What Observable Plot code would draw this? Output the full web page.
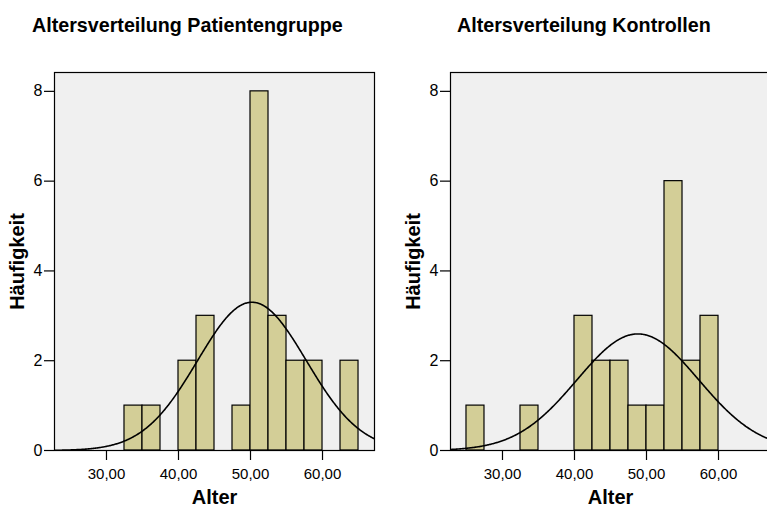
<!DOCTYPE html>
<html>
<head>
<meta charset="utf-8">
<script src="https://cdn.jsdelivr.net/npm/d3@7"></script>
<script src="https://cdn.jsdelivr.net/npm/@observablehq/plot@0.6"></script>
<style>
  html, body { margin: 0; padding: 0; background: #fff; overflow: hidden; width: 767px; height: 507px; }
  #root { position: relative; width: 767px; height: 507px; overflow: hidden; font-family: Arial, "Liberation Sans", sans-serif; }
  .title { position: absolute; top: 15px; font-weight: bold; font-size: 19.7px; line-height: 20px; white-space: nowrap; color: #000; }
  .panel { position: absolute; top: 60px; }
  .panel svg { max-width: none !important; }
</style>
</head>
<body>
<div id="root">
  <div class="title" id="t1" style="left:32px"></div>
  <div class="title" id="t2" style="left:457px"></div>
  <div class="panel" id="p1" style="left:0px; width:383px"></div>
  <div class="panel" id="p2" style="left:396px; width:384px"></div>
</div>
<script>
// ---- Data ----
const titles = ["Altersverteilung Patientengruppe", "Altersverteilung Kontrollen"];
const xLabel = "Alter";
const yLabel = "Häufigkeit";
const binWidth = 2.5;

const patientBinStarts = [32.5, 35, 40, 42.5, 47.5, 50, 52.5, 55, 57.5, 62.5];
const patientCounts    = [1, 1, 2, 3, 1, 8, 3, 2, 2, 2];

const controlBinStarts = [25, 32.5, 40, 42.5, 45, 47.5, 50, 52.5, 55, 57.5];
const controlCounts    = [1, 1, 3, 2, 2, 1, 1, 6, 2, 3];

// fitted normal curve parameters (mean, SD, N)
const patientNormal = {mean: 50.2, sd: 7.55, n: 25};
const controlNormal = {mean: 48.8, sd: 8.45, n: 22};

const xTicks = [30, 40, 50, 60];
const yTicks = [0, 2, 4, 6, 8];
const xDomain = [22.78, 67.22];
const yDomain = [0, 8.42];

const barFill = "#d3ce97";
const panelFill = "#f0f0f0";

const fmt = d => d.toFixed(2).replace(".", ",");

function normalCurve(p) {
  const k = p.n * binWidth / (p.sd * Math.sqrt(2 * Math.PI));
  return d3.range(xDomain[0], xDomain[1] + 0.001, 0.1).map(x => ({
    x, y: k * Math.exp(-0.5 * ((x - p.mean) / p.sd) ** 2)
  }));
}

function panel(starts, counts, normal, width, marginRight) {
  const bins = starts.map((s, i) => ({x1: s, x2: s + binWidth, y: counts[i]}));
  return Plot.plot({
    width, height: 447,
    marginLeft: 54, marginRight, marginTop: 12, marginBottom: 57,
    style: {fontFamily: 'Arial, "Liberation Sans", sans-serif', fontSize: "15px", color: "#000", background: "transparent", overflow: "visible", maxWidth: "none"},
    x: {domain: xDomain},
    y: {domain: yDomain},
    marks: [
      Plot.frame({fill: panelFill, stroke: null}),
      Plot.rectY(bins, {x1: "x1", x2: "x2", y: "y", fill: barFill, stroke: "#000", strokeWidth: 1.2}),
      Plot.line(normalCurve(normal), {x: "x", y: "y", stroke: "#000", strokeWidth: 1.6, clip: "frame"}),
      Plot.frame({stroke: "#000", strokeWidth: 1.2}),
      Plot.axisY({ticks: yTicks, tickSize: 10, tickPadding: 2, label: null, tickFormat: d3.format("d"), fontSize: 16, stroke: "#000", strokeWidth: 1.2}),
      Plot.axisX({ticks: xTicks, tickSize: 10, tickPadding: 8, label: null, tickFormat: fmt, fontSize: 15, stroke: "#000", strokeWidth: 1.2}),
      Plot.text([yLabel], {text: d => d, frameAnchor: "left", rotate: -90, dx: -37, fontSize: 20, fontWeight: "bold", textAnchor: "middle", lineAnchor: "middle"}),
      Plot.text([xLabel], {text: d => d, frameAnchor: "bottom", dy: 47, fontSize: 20, fontWeight: "bold", textAnchor: "middle", lineAnchor: "middle"})
    ]
  });
}

document.getElementById("t1").textContent = titles[0];
document.getElementById("t2").textContent = titles[1];
document.getElementById("p1").appendChild(panel(patientBinStarts, patientCounts, patientNormal, 383, 9));
document.getElementById("p2").appendChild(panel(controlBinStarts, controlCounts, controlNormal, 384, 10));
</script>
</body>
</html>
